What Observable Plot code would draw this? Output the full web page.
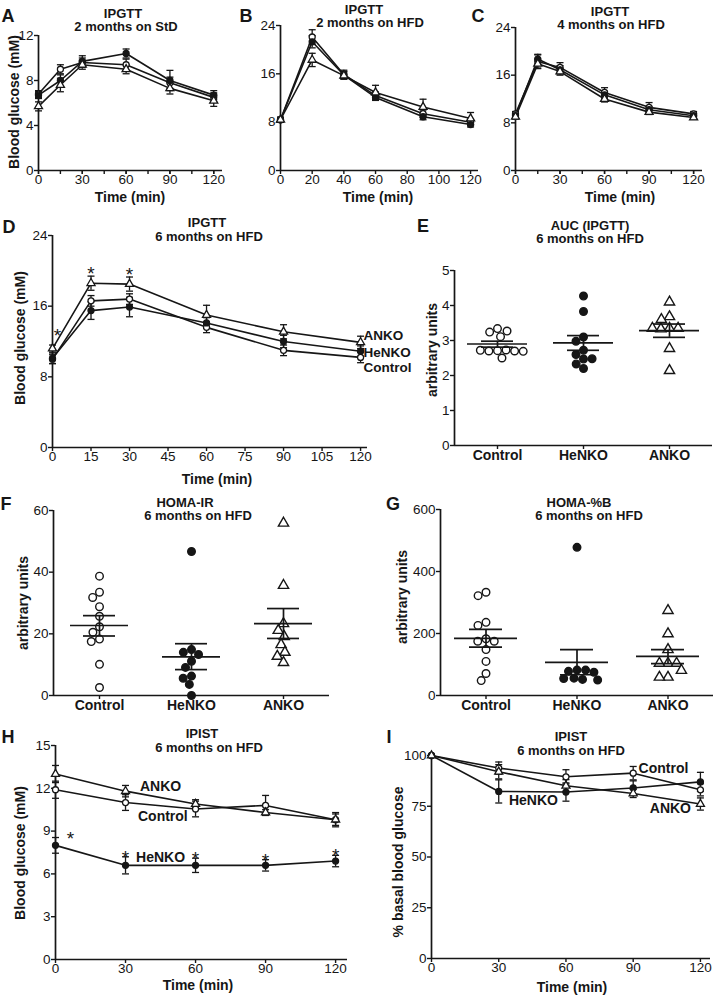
<!DOCTYPE html>
<html>
<head>
<meta charset="utf-8">
<script src="https://cdn.jsdelivr.net/npm/d3@7"></script>
<script src="https://cdn.jsdelivr.net/npm/@observablehq/plot@0.6"></script>
<style>
  html, body { margin: 0; padding: 0; background: #fff; }
  #fig { position: relative; width: 720px; height: 997px; overflow: hidden; background: #fff; }
</style>
</head>
<body>
<div id="fig"></div>
<script>
// ---------------- DATA ----------------
const groups = ["Control", "HeNKO", "ANKO"];

// A: IPGTT 2 months on StD
const timeA = [0, 15, 30, 60, 90, 120];
const aControl = [6.8, 9.0, 9.6, 9.4, 7.8, 6.5];
const aControlErr = [0.3, 0.4, 0.4, 0.5, 0.5, 0.4];
const aHeNKO = [6.7, 8.0, 9.7, 10.4, 8.0, 6.7];
const aHeNKOErr = [0.3, 0.5, 0.5, 0.4, 0.9, 0.4];
const aANKO = [5.7, 7.6, 9.4, 9.0, 7.3, 6.2];
const aANKOErr = [0.4, 0.6, 0.4, 0.4, 0.5, 0.5];

// B: IPGTT 2 months on HFD
const timeB = [0, 20, 40, 60, 90, 120];
const bControl = [8.4, 22.1, 15.9, 12.4, 9.4, 8.0];
const bControlErr = [0.4, 1.2, 0.7, 0.6, 0.6, 0.5];
const bHeNKO = [8.4, 21.3, 15.8, 12.1, 8.9, 7.6];
const bHeNKOErr = [0.4, 1.0, 0.6, 0.5, 0.5, 0.4];
const bANKO = [8.4, 18.3, 15.7, 12.9, 10.5, 8.6];
const bANKOErr = [0.4, 1.1, 0.6, 1.2, 1.3, 1.0];

// C: IPGTT 4 months on HFD
const timeC = [0, 15, 30, 60, 90, 120];
const cControl = [9.5, 18.3, 17.3, 13.1, 10.6, 9.5];
const cControlErr = [0.4, 1.1, 0.8, 0.8, 0.8, 0.4];
const cHeNKO = [9.2, 18.7, 16.9, 12.7, 10.2, 9.2];
const cHeNKOErr = [0.4, 0.8, 0.7, 0.6, 0.5, 0.4];
const cANKO = [9.0, 17.9, 16.6, 12.0, 9.8, 8.9];
const cANKOErr = [0.4, 0.8, 0.6, 0.5, 0.4, 0.3];

// D: IPGTT 6 months on HFD
const timeD = [0, 15, 30, 60, 90, 120];
const dControl = [10.0, 16.6, 16.8, 13.6, 11.0, 10.2];
const dControlErr = [0.5, 0.6, 0.6, 0.6, 0.6, 0.6];
const dHeNKO = [10.1, 15.5, 15.9, 14.1, 12.0, 10.9];
const dHeNKOErr = [0.6, 1.0, 1.1, 0.6, 0.7, 0.6];
const dANKO = [11.2, 18.6, 18.5, 15.0, 13.1, 11.9];
const dANKOErr = [0.4, 0.8, 0.8, 1.1, 0.8, 0.7];
const starsD = [0, 15, 30];            // ANKO significant
const labelsD = [{name: "ANKO", t: 120, v: 12.7}, {name: "HeNKO", t: 120, v: 10.75}, {name: "Control", t: 120, v: 9.05}];

// E: AUC (IPGTT)
const eControl = [3.34, 3.24, 3.11, 3.27, 2.71, 2.70, 2.73, 2.70, 2.72, 2.69, 2.50];
const eHeNKO = [4.27, 3.83, 3.10, 2.98, 2.72, 2.60, 2.47, 2.48, 2.20, 2.33];
const eANKO = [4.10, 3.68, 3.60, 3.35, 3.33, 3.35, 3.35, 2.77, 2.14];
const eMean = [2.90, 2.93, 3.28];
const eLo = [2.81, 2.72, 3.09];
const eHi = [2.98, 3.14, 3.47];

// F: HOMA-IR
const fControl = [38.7, 33.5, 31.8, 28.8, 25.7, 22.3, 20.5, 18.3, 17.5, 10.1, 2.6];
const fHeNKO = [46.7, 14.9, 14.0, 13.3, 11.1, 9.1, 6.3, 5.6, 3.6, 0];
const fANKO = [55.9, 35.7, 23.3, 21.1, 19.1, 16.5, 14.0, 12.7, 10.7];
const fMean = [22.7, 12.5, 23.3];
const fLo = [19.3, 8.4, 18.5];
const fHi = [25.9, 16.8, 28.2];

// G: HOMA-%B
const gControl = [333, 322, 236, 226, 183, 175, 175, 148, 110, 71, 48];
const gHeNKO = [478, 82, 78, 82, 75, 56, 52, 55, 50];
const gANKO = [274, 199, 148, 104, 104, 104, 81, 59, 59];
const gMean = [184, 107, 126];
const gLo = [156, 67, 103];
const gHi = [213, 148, 148];

// H: IPIST (mM)
const timeH = [0, 30, 60, 90, 120];
const hControl = [11.9, 11.0, 10.55, 10.8, 9.8];
const hControlErr = [0.6, 0.55, 0.55, 0.7, 0.5];
const hHeNKO = [8.0, 6.6, 6.6, 6.6, 6.9];
const hHeNKOErr = [0.55, 0.6, 0.5, 0.4, 0.4];
const hANKO = [13.0, 11.8, 10.9, 10.3, 9.8];
const hANKOErr = [0.6, 0.4, 0.3, 0.2, 0.4];
const starsH = [0, 30, 60, 90, 120];   // HeNKO significant
const labelsH = [{name: "ANKO", t: 45, v: 12.1}, {name: "Control", t: 46, v: 10.0}, {name: "HeNKO", t: 45, v: 7.15}];

// I: IPIST (% basal)
const timeI = [0, 30, 60, 90, 120];
const iControl = [100, 93.8, 89.5, 91.3, 83.1];
const iControlErr = [0, 3.0, 3.5, 3.3, 3.0];
const iHeNKO = [100, 82.3, 82.0, 84.0, 87.0];
const iHeNKOErr = [0, 5.7, 4.5, 3.5, 4.7];
const iANKO = [100, 92.0, 85.1, 81.3, 76.1];
const iANKOErr = [0, 3.5, 3.0, 2.0, 3.0];
const labelsI = [{name: "Control", t: 103.5, v: 93.5}, {name: "HeNKO", t: 45.5, v: 77.7}, {name: "ANKO", t: 106.6, v: 73.8}];

// ---------------- HELPERS ----------------
const FONT = '"Liberation Sans", Arial, Helvetica, sans-serif';
const INK = "#161616";
const fig = document.getElementById("fig");
const fillOf = d => d.group === "HeNKO" ? INK : "white";
const cap = {draw(ctx, size) { const r = Math.sqrt(size / Math.PI); ctx.moveTo(-r, 0); ctx.lineTo(r, 0); }};

function seriesRows(time, series) {
  return series.flatMap(([g, v, e]) => time.map((t, i) => ({group: g, t, v: v[i], e: e[i]})));
}
function groupRows(lists) {
  return lists.flatMap((vals, k) => vals.map(v => ({group: groups[k], v})));
}
function statRows(mean, lo, hi) {
  return groups.map((g, k) => ({group: g, mean: mean[k], lo: lo[k], hi: hi[k]}));
}

function addText(text, cx, cy, {size = 14, weight = "bold", rotate = false} = {}) {
  const d = document.createElement("div");
  d.textContent = text;
  d.style.cssText = `position:absolute;left:${cx}px;top:${cy}px;transform:translate(-50%,-50%)${rotate ? " rotate(-90deg)" : ""};font-family:${FONT};font-weight:${weight};font-size:${size}px;white-space:nowrap;color:${INK};line-height:1;`;
  fig.appendChild(d);
}

function addPlot(box, frame, opts) {
  const [L, T, W, H] = box;
  const [x0, x1, y0, y1] = frame;
  const svg = Plot.plot({
    width: W, height: H,
    marginLeft: x0 - L, marginRight: L + W - x1, marginTop: y0 - T, marginBottom: T + H - y1,
    style: {fontFamily: FONT, fontSize: "13.5px", color: INK, background: "none", overflow: "visible"},
    ...opts
  });
  svg.style.position = "absolute";
  svg.style.left = L + "px";
  svg.style.top = T + "px";
  fig.appendChild(svg);
}

function linePanel(box, frame, {xDomain, xTicks, xMinor, yDomain, yTicks, rows, extra = []}) {
  addPlot(box, frame, {
    x: {domain: xDomain},
    y: {domain: yDomain},
    symbol: {domain: groups, range: ["circle", "circle", "triangle"]},
    marks: [
      xMinor ? Plot.axisX(xMinor, {tickSize: 4, strokeWidth: 1.4, tickFormat: () => "", label: null}) : null,
      Plot.axisX(xTicks, {tickSize: 4, tickPadding: 0, strokeWidth: 1.4, label: null}),
      Plot.axisY(yTicks, {tickSize: 4, tickPadding: 1, strokeWidth: 1.4, label: null}),
      Plot.ruleY([yDomain[0]], {stroke: INK, strokeWidth: 1.7}),
      Plot.ruleX([xDomain[0]], {stroke: INK, strokeWidth: 1.7}),
      Plot.line(rows, {x: "t", y: "v", z: "group", stroke: INK, strokeWidth: 1.6}),
      Plot.ruleX(rows, {x: "t", y1: d => d.v - d.e, y2: d => d.v + d.e, stroke: INK, strokeWidth: 1.3}),
      Plot.dot(rows, {x: "t", y: d => d.v + d.e, symbol: cap, r: 3.5, fill: "none", stroke: INK, strokeWidth: 1.3}),
      Plot.dot(rows, {x: "t", y: d => d.v - d.e, symbol: cap, r: 3.5, fill: "none", stroke: INK, strokeWidth: 1.3}),
      Plot.dot(rows, {x: "t", y: "v", symbol: "group", r: 3, fill: fillOf, stroke: INK, strokeWidth: 1.3}),
      ...extra
    ]
  });
}

function dotPanel(box, frame, {yDomain, yTicks, rows, stats, meanInset, semInset}) {
  addPlot(box, frame, {
    fx: {domain: groups, padding: 0},
    x: {domain: [-1, 1], axis: null},
    y: {domain: yDomain},
    symbol: {domain: groups, range: ["circle", "circle", "triangle"]},
    marks: [
      Plot.axisY(yTicks, {tickSize: 4, tickPadding: 1, strokeWidth: 1.4, label: null}),
      Plot.axisFx({anchor: "bottom", tickSize: 4, tickPadding: 1, strokeWidth: 1.4, fontWeight: "bold", fontSize: 14, label: null}),
      Plot.ruleY([yDomain[0]], {stroke: INK, strokeWidth: 1.7}),
      Plot.ruleX([groups[0]], {fx: d => d, x: () => -1, stroke: INK, strokeWidth: 1.7}),
      Plot.dot(rows, Plot.dodgeX("middle", {fx: "group", y: "v", r: 3.8, padding: 2, symbol: "group", fill: fillOf, stroke: INK, strokeWidth: 1.4})),
      Plot.ruleY(stats, {fx: "group", y: "mean", insetLeft: meanInset, insetRight: meanInset, stroke: INK, strokeWidth: 1.7}),
      Plot.ruleY(stats, {fx: "group", y: "lo", insetLeft: semInset, insetRight: semInset, stroke: INK, strokeWidth: 1.7}),
      Plot.ruleY(stats, {fx: "group", y: "hi", insetLeft: semInset, insetRight: semInset, stroke: INK, strokeWidth: 1.7}),
      Plot.ruleX(stats, {fx: "group", x: () => 0, y1: "lo", y2: "hi", stroke: INK, strokeWidth: 1.7})
    ]
  });
}

// ---------------- PANELS ----------------
const min15 = [0, 15, 30, 45, 60, 75, 90, 105, 120];

// A
linePanel([0, 25, 240, 170], [38, 222, 35, 170], {
  xDomain: [0, 126], xTicks: [0, 30, 60, 90, 120], xMinor: min15,
  yDomain: [0, 12], yTicks: [0, 4, 8, 12],
  rows: seriesRows(timeA, [["Control", aControl, aControlErr], ["HeNKO", aHeNKO, aHeNKOErr], ["ANKO", aANKO, aANKOErr]])
});
// B
linePanel([240, 15, 240, 180], [280, 478, 25, 170], {
  xDomain: [0, 125], xTicks: [0, 20, 40, 60, 80, 100, 120],
  yDomain: [0, 24], yTicks: [0, 8, 16, 24],
  rows: seriesRows(timeB, [["Control", bControl, bControlErr], ["HeNKO", bHeNKO, bHeNKOErr], ["ANKO", bANKO, bANKOErr]])
});
// C
linePanel([480, 17, 240, 178], [515, 702, 27, 170], {
  xDomain: [0, 126], xTicks: [0, 30, 60, 90, 120], xMinor: min15,
  yDomain: [0, 24], yTicks: [0, 8, 16, 24],
  rows: seriesRows(timeC, [["Control", cControl, cControlErr], ["HeNKO", cHeNKO, cHeNKOErr], ["ANKO", cANKO, cANKOErr]])
});
// D
const rowsD = seriesRows(timeD, [["Control", dControl, dControlErr], ["HeNKO", dHeNKO, dHeNKOErr], ["ANKO", dANKO, dANKOErr]]);
const starRowsD = rowsD.filter(d => d.group === "ANKO" && starsD.includes(d.t));
linePanel([0, 225, 420, 240], [52, 367, 235, 447], {
  xDomain: [0, 122.7], xTicks: min15,
  yDomain: [0, 24], yTicks: [0, 8, 16, 24],
  rows: rowsD,
  extra: [
    Plot.text(starRowsD.filter(d => d.t > 0), {x: "t", y: d => d.v + d.e, text: () => "*", fontSize: 19, dy: -2}),
    Plot.text(starRowsD.filter(d => d.t === 0), {x: "t", y: d => d.v + d.e, text: () => "*", fontSize: 19, dx: 5, dy: -9}),
    Plot.text(labelsD, {x: "t", y: "v", text: "name", textAnchor: "start", dx: 3, fontWeight: "bold", fontSize: 13.5})
  ]
});
// E
dotPanel([400, 260, 320, 205], [453, 713, 270, 445], {
  yDomain: [0, 5], yTicks: [0, 1, 2, 3, 4, 5],
  rows: groupRows([eControl, eHeNKO, eANKO]), stats: statRows(eMean, eLo, eHi),
  meanInset: 13, semInset: 27
});
// F
dotPanel([0, 500, 360, 215], [52, 330, 510, 695], {
  yDomain: [0, 60], yTicks: [0, 20, 40, 60],
  rows: groupRows([fControl, fHeNKO, fANKO]), stats: statRows(fMean, fLo, fHi),
  meanInset: 17, semInset: 30
});
// G
dotPanel([360, 499, 360, 216], [440, 713, 509, 695], {
  yDomain: [0, 600], yTicks: [0, 200, 400, 600],
  rows: groupRows([gControl, gHeNKO, gANKO]), stats: statRows(gMean, gLo, gHi),
  meanInset: 14, semInset: 29
});
// H
const rowsH = seriesRows(timeH, [["Control", hControl, hControlErr], ["HeNKO", hHeNKO, hHeNKOErr], ["ANKO", hANKO, hANKOErr]]);
const starRowsH = rowsH.filter(d => d.group === "HeNKO" && starsH.includes(d.t));
linePanel([0, 735, 360, 245], [55, 347, 745, 959], {
  xDomain: [0, 125.1], xTicks: [0, 30, 60, 90, 120],
  yDomain: [0, 15], yTicks: [0, 3, 6, 9, 12, 15],
  rows: rowsH,
  extra: [
    Plot.text(starRowsH.filter(d => d.t > 0), {x: "t", y: d => d.v + d.e, text: () => "*", fontSize: 19, dy: 1}),
    Plot.text(starRowsH.filter(d => d.t === 0), {x: "t", y: d => d.v + d.e, text: () => "*", fontSize: 19, dx: 15, dy: 1}),
    Plot.text(labelsH, {x: "t", y: "v", text: "name", fontWeight: "bold", fontSize: 14})
  ]
});
// I
linePanel([360, 745, 360, 235], [431, 710, 755, 958], {
  xDomain: [0, 124.5], xTicks: [0, 30, 60, 90, 120],
  yDomain: [0, 100], yTicks: [0, 25, 50, 75, 100],
  rows: seriesRows(timeI, [["Control", iControl, iControlErr], ["HeNKO", iHeNKO, iHeNKOErr], ["ANKO", iANKO, iANKOErr]]),
  extra: [
    Plot.text(labelsI, {x: "t", y: "v", text: "name", fontWeight: "bold", fontSize: 14})
  ]
});

// ---------------- TEXT: letters, titles, axis titles ----------------
[["A", 8, 16], ["B", 246, 16], ["C", 478, 16], ["D", 9, 227], ["E", 423, 226],
 ["F", 6, 504], ["G", 393, 504], ["H", 8, 737], ["I", 389, 737]]
  .forEach(([t, x, y]) => addText(t, x, y, {size: 18}));

[["IPGTT", 123, 12.5], ["2 months on StD", 126, 26],
 ["IPGTT", 364, 8.5], ["2 months on HFD", 370, 22],
 ["IPGTT", 610, 10.5], ["4 months on HFD", 611, 24],
 ["IPGTT", 207, 222], ["6 months on HFD", 209, 236],
 ["AUC (IPGTT)", 590, 224.5], ["6 months on HFD", 590, 238],
 ["HOMA-IR", 185, 501.5], ["6 months on HFD", 198, 515],
 ["HOMA-%B", 579, 501.5], ["6 months on HFD", 589, 515],
 ["IPIST", 202, 733], ["6 months on HFD", 209, 747],
 ["IPIST", 571, 736], ["6 months on HFD", 571, 750]]
  .forEach(([t, x, y]) => addText(t, x, y, {size: 13}));

[["Time (min)", 130, 197], ["Time (min)", 378, 197], ["Time (min)", 620, 197],
 ["Time (min)", 217, 479], ["Time (min)", 198, 985], ["Time (min)", 572, 987]]
  .forEach(([t, x, y]) => addText(t, x, y));

[["Blood glucose (mM)", 14, 102], ["Blood glucose (mM)", 20, 338], ["arbitrary units", 432, 350],
 ["arbitrary units", 23, 603], ["arbitrary units", 402, 597], ["Blood glucose (mM)", 20, 853],
 ["% basal blood glucose", 398, 862]]
  .forEach(([t, x, y]) => addText(t, x, y, {rotate: true}));
</script>
</body>
</html>
